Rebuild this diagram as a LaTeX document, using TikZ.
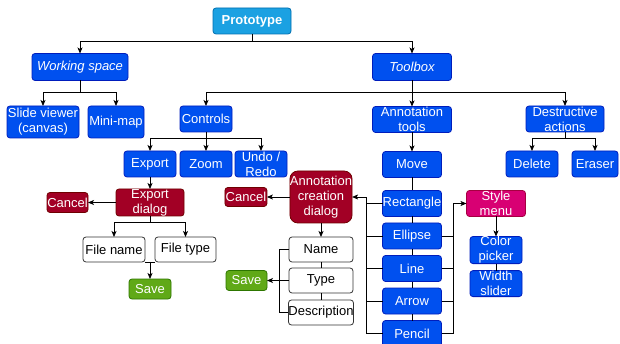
\documentclass[tikz,border=0pt]{standalone}
\usepackage{fontspec}
\setmainfont{Liberation Sans}
\usepackage{tikz}
\usetikzlibrary{arrows.meta,positioning}
\definecolor{topfill}{HTML}{1BA1E2}
\definecolor{topline}{HTML}{006EAF}
\definecolor{toolfill}{HTML}{0050EF}
\definecolor{toolline}{HTML}{001DBC}
\definecolor{dlgfill}{HTML}{A20025}
\definecolor{dlgline}{HTML}{6F0000}
\definecolor{okfill}{HTML}{60A917}
\definecolor{okline}{HTML}{2D7600}
\definecolor{menufill}{HTML}{D80073}
\definecolor{menuline}{HTML}{A50040}
\tikzset{
  uinode/.style={
    rectangle, rounded corners=3pt, line width=0.8pt, inner sep=0pt,
    outer sep=0pt, align=center, text=white, minimum height=26pt,
    font=\fontsize{13}{15}\selectfont
  },
  topnode/.style={uinode, draw=topline, fill=topfill, font=\fontsize{13}{15}\selectfont\bfseries},
  toolnode/.style={uinode, draw=toolline, fill=toolfill},
  groupnode/.style={toolnode, minimum height=27pt, font=\fontsize{13}{15}\selectfont\itshape},
  dlgnode/.style={uinode, draw=dlgline, fill=dlgfill},
  oknode/.style={uinode, draw=okline, fill=okfill, minimum height=20pt},
  menunode/.style={uinode, draw=menuline, fill=menufill},
  fieldnode/.style={uinode, draw=black!80, fill=white, text=black, minimum height=25pt},
  uiarrow/.style={-{Stealth[length=6pt,width=5pt,inset=1.5pt]}, line width=0.8pt},
  uiline/.style={line width=0.8pt},
}
\begin{document}
\begin{tikzpicture}[x=1pt, y=1pt, node distance=6pt]
  \useasboundingbox (0,0) rectangle (620,-344);
  \node[topnode, minimum width=78pt] (proto) at (252,-21) {Prototype};
  \node[groupnode, minimum width=96pt] (wspace) at (80,-67) {Working space};
  \node[groupnode, minimum width=79pt] (toolbox) at (412,-67) {Toolbox};
  \node[toolnode, minimum width=72pt, minimum height=32pt] (slide) at (43,-122) {Slide viewer\\(canvas)};
  \node[toolnode, minimum width=56pt, minimum height=32pt, right=9pt of slide] (minimap) {Mini-map};
  \node[toolnode, minimum width=52pt] (controls) at (206,-119) {Controls};
  \node[toolnode, minimum width=79pt, below=26pt of toolbox] (annot) {Annotation\\tools};
  \node[toolnode, minimum width=78pt] (destr) at (565,-119) {Destructive\\actions};
  \node[toolnode, minimum width=52pt, below=19pt of controls] (zoom) {Zoom};
  \node[toolnode, minimum width=52pt, left=4pt of zoom] (export) {Export};
  \node[toolnode, minimum width=52pt, right=3pt of zoom] (undo) {Undo /\\Redo};
  \node[toolnode, minimum width=59pt, below=19pt of annot] (move) {Move};
  \node[toolnode, minimum width=52pt] (delete) at (532,-164) {Delete};
  \node[toolnode, minimum width=46pt, right=14pt of delete] (eraser) {Eraser};
  \node[dlgnode, minimum width=68pt, minimum height=27pt, below=12pt of export] (expdlg) {Export\\dialog};
  \node[dlgnode, minimum width=41pt, minimum height=20pt, left=28pt of expdlg] (cancela) {Cancel};
  \node[fieldnode, minimum width=62pt] (fname) at (114,-249.5) {File name};
  \node[fieldnode, minimum width=61pt, right=10pt of fname] (ftype) {File type};
  \node[oknode, minimum width=42pt] (savea) at (150,-289) {Save};
  \node[dlgnode, minimum width=60pt, minimum height=52pt, rounded corners=8pt] (anndlg) at (321,-197) {Annotation\\creation\\dialog};
  \node[dlgnode, minimum width=42pt, minimum height=19pt, left=23pt of anndlg] (cancelb) {Cancel};
  \node[fieldnode, minimum width=64pt, below=14pt of anndlg] (name) {Name};
  \node[fieldnode, minimum width=64pt, below=6pt of name] (type) {Type};
  \node[fieldnode, minimum width=64pt, below=7pt of type] (desc) {Description};
  \node[oknode, minimum width=41pt, left=22pt of type] (saveb) {Save};
  \node[toolnode, minimum width=59pt, below=13pt of move] (rect) {Rectangle};
  \node[toolnode, minimum width=59pt, below=6.5pt of rect] (ellipse) {Ellipse};
  \node[toolnode, minimum width=59pt, below=6.5pt of ellipse] (line) {Line};
  \node[toolnode, minimum width=59pt, below=6.5pt of line] (arrowt) {Arrow};
  \node[toolnode, minimum width=59pt, below=6.5pt of arrowt] (pencil) {Pencil};
  \node[menunode, minimum width=59pt, right=25pt of rect] (style) {Style\\menu};
  \node[toolnode, minimum width=52pt, below=20pt of style] (color) {Color\\picker};
  \node[toolnode, minimum width=52pt, below=7pt of color] (width) {Width\\slider};

  \draw[uiarrow] (proto.south) -- ++(0,-7) -| (wspace.north);
  \draw[uiarrow] (proto.south) -- ++(0,-7) -| (toolbox.north);
  \draw[uiarrow] (wspace.south) -- ++(0,-12) -| (slide.north);
  \draw[uiarrow] (wspace.south) -- ++(0,-12) -| (minimap.north);
  \draw[uiarrow] (toolbox.south) -- ++(0,-12) -| (controls.north);
  \draw[uiarrow] (toolbox.south) -- (annot.north);
  \draw[uiarrow] (toolbox.south) -- ++(0,-12) -| (destr.north);
  \draw[uiarrow] (controls.south) -- ++(0,-6) -| (export.north);
  \draw[uiarrow] (controls.south) -- (zoom.north);
  \draw[uiarrow] (controls.south) -- ++(0,-6) -| (undo.north);
  \draw[uiarrow] (destr.south) -- ++(0,-6) -| (delete.north);
  \draw[uiarrow] (destr.south) -- ++(0,-6) -| (eraser.north);
  \draw[uiarrow] (annot) -- (move);
  \draw[uiarrow] (export) -- (expdlg);
  \draw[uiarrow] (expdlg.west) -- (cancela.east);
  \draw[uiarrow] (expdlg.south) -- ++(0,-6) -| (fname.north);
  \draw[uiarrow] (expdlg.south) -- ++(0,-6) -| (ftype.north);
  \draw[uiline] (fname.south east) -- (ftype.south west);
  \draw[uiarrow] (savea.north |- fname.south) -- (savea.north);
  \draw[uiline] (move) -- (rect) -- (ellipse) -- (line) -- (arrowt) -- (pencil);
  \draw[uiarrow] (pencil.west) -- ++(-16,0) |- (anndlg.east);
  \draw[uiline] (rect.west) -- ++(-16,0);
  \draw[uiline] (ellipse.west) -- ++(-16,0);
  \draw[uiline] (line.west) -- ++(-16,0);
  \draw[uiline] (arrowt.west) -- ++(-16,0);
  \draw[uiarrow] (pencil.east) -- ++(12,0) |- (style.west);
  \draw[uiline] (ellipse.east) -- ++(12,0);
  \draw[uiline] (line.east) -- ++(12,0);
  \draw[uiline] (arrowt.east) -- ++(12,0);
  \draw[uiarrow] (anndlg.west) -- (cancelb.east);
  \draw[uiarrow] (anndlg.south) -- (name.north);
  \draw[uiline] (name) -- (type) -- (desc);
  \draw[uiline] (name.west) -- ++(-10,0) |- (desc.west);
  \draw[uiarrow] (type.west) -- (saveb.east);
  \draw[uiarrow] (style.south) -- (color.north);
  \draw[uiline] (color) -- (width);
\end{tikzpicture}
\end{document}
